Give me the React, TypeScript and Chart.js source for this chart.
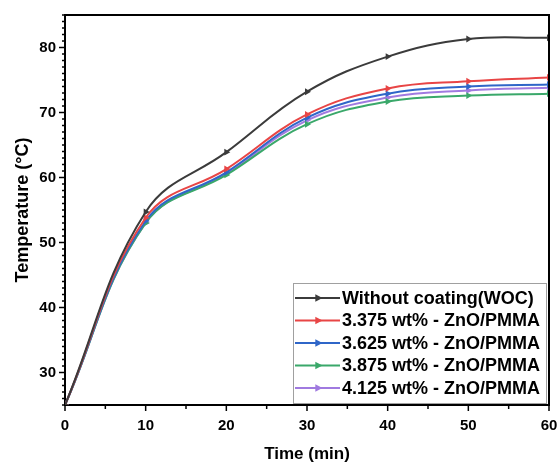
import React, { useEffect, useRef } from "react";
import { Chart, registerables } from "chart.js";

Chart.register(...registerables);

const time = [0, 10, 20, 30, 40, 50, 60];
const woc = [25, 54.7, 63.9, 73.2, 78.6, 81.3, 81.5];
const zno3375 = [25, 53.8, 61.3, 69.7, 73.7, 74.8, 75.4];
const zno3625 = [25, 53.3, 60.8, 69.2, 72.9, 74.0, 74.3];
const zno3875 = [25, 53.0, 60.4, 68.2, 71.7, 72.6, 72.9];
const zno4125 = [25, 53.0, 60.6, 68.8, 72.3, 73.4, 73.8];

const seriesLabels = [
  "Without coating(WOC)",
  "3.375 wt% - ZnO/PMMA",
  "3.625 wt% - ZnO/PMMA",
  "3.875 wt% - ZnO/PMMA",
  "4.125 wt% - ZnO/PMMA",
];
const seriesColors = ["#3b3b3b", "#e84545", "#2f66c8", "#3aa86a", "#a07ae0"];
const seriesValues = [woc, zno3375, zno3625, zno3875, zno4125];

const xTicks = [0, 10, 20, 30, 40, 50, 60];
const yTicks = [30, 40, 50, 60, 70, 80];

const FONT = "'Liberation Sans', Arial, sans-serif";

function drawTri(ctx: CanvasRenderingContext2D, x: number, y: number, r: number) {
  ctx.beginPath();
  ctx.moveTo(x + r, y);
  ctx.lineTo(x - r * 0.6, y - r * 0.85);
  ctx.lineTo(x - r * 0.6, y + r * 0.85);
  ctx.closePath();
  ctx.fill();
}

const framePlugin = {
  id: "frameAndLegend",
  afterDraw(chart: any) {
    const { ctx, chartArea } = chart;
    const { left, right, top, bottom } = chartArea;
    const xs = chart.scales.x;
    const ys = chart.scales.y;
    ctx.save();
    ctx.strokeStyle = "#000";
    ctx.lineWidth = 2;
    ctx.beginPath();
    ctx.moveTo(left, top);
    ctx.lineTo(right, top);
    ctx.lineTo(right, bottom);
    ctx.stroke();
    ctx.lineWidth = 1.5;
    for (let v = 25; v <= 85; v += 1) {
      const py = ys.getPixelForValue(v);
      const len = v % 10 === 0 ? 6 : 3;
      ctx.beginPath();
      ctx.moveTo(left, py);
      ctx.lineTo(left - len, py);
      ctx.stroke();
    }
    for (let v = 0; v <= 60; v += 5) {
      const px = xs.getPixelForValue(v);
      const len = v % 10 === 0 ? 6 : 4;
      ctx.beginPath();
      ctx.moveTo(px, bottom);
      ctx.lineTo(px, bottom + len);
      ctx.stroke();
    }
    const bx = 293, by = 283, bw = 253, bh = 120;
    ctx.fillStyle = "#fff";
    ctx.fillRect(bx, by, bw, bh);
    ctx.strokeStyle = "#a0a0a0";
    ctx.lineWidth = 1;
    ctx.strokeRect(bx + 0.5, by + 0.5, bw, bh);
    const rows = [298, 320.5, 343, 365.5, 388];
    ctx.font = `bold 18px ${FONT}`;
    ctx.textBaseline = "middle";
    ctx.textAlign = "left";
    seriesLabels.forEach((lab, i) => {
      const y = rows[i];
      ctx.strokeStyle = seriesColors[i];
      ctx.lineWidth = 2;
      ctx.beginPath();
      ctx.moveTo(295, y);
      ctx.lineTo(340, y);
      ctx.stroke();
      ctx.fillStyle = seriesColors[i];
      drawTri(ctx, 318, y, 4.5);
      ctx.fillStyle = "#000";
      ctx.fillText(lab, 342, y + 1);
    });
    ctx.restore();
  },
};

export default function App() {
  const ref = useRef<HTMLCanvasElement>(null);
  useEffect(() => {
    document.body.style.margin = "0";
    const canvas = ref.current!;
    const chart = new Chart(canvas, {
      type: "line",
      data: {
        datasets: seriesValues.map((vals, i) => ({
          label: seriesLabels[i],
          data: time.map((t, j) => ({ x: t, y: vals[j] })),
          borderColor: seriesColors[i],
          backgroundColor: seriesColors[i],
          borderWidth: 2,
          pointStyle: "triangle",
          rotation: 90,
          pointRadius: 4,
          pointBorderWidth: 0,
          tension: 0.4,
          fill: false,
        })),
      },
      options: {
        animation: false,
        responsive: false,
        devicePixelRatio: 1,
        layout: { padding: { top: 15, right: 9, left: 0, bottom: 0 } },
        plugins: { legend: { display: false }, tooltip: { enabled: false } },
        scales: {
          x: {
            type: "linear",
            min: 0,
            max: 60,
            afterBuildTicks: (s: any) => {
              s.ticks = xTicks.map((v) => ({ value: v }));
            },
            afterFit: (s: any) => {
              s.height = 60;
              s.paddingRight = 0;
              s.paddingLeft = 0;
            },
            grid: { display: false, drawTicks: false },
            border: { display: true, color: "#000", width: 2 },
            ticks: {
              color: "#000",
              font: { family: FONT, size: 15, weight: "bold" },
              padding: 12,
              maxRotation: 0,
            },
            title: {
              display: true,
              text: "Time (min)",
              color: "#000",
              font: { family: FONT, size: 17, weight: "bold" },
              padding: { top: 0, bottom: 0 },
            },
          },
          y: {
            type: "linear",
            min: 25,
            max: 85,
            afterBuildTicks: (s: any) => {
              s.ticks = yTicks.map((v) => ({ value: v }));
            },
            afterFit: (s: any) => {
              s.width = 65;
              s.paddingTop = 0;
              s.paddingBottom = 0;
            },
            grid: { display: false, drawTicks: false },
            border: { display: true, color: "#000", width: 2 },
            ticks: {
              color: "#000",
              font: { family: FONT, size: 15, weight: "bold" },
              padding: 9,
            },
            title: {
              display: true,
              text: "Temperature (°C)",
              color: "#000",
              font: { family: FONT, size: 18, weight: "bold" },
              padding: { top: 12, bottom: 0 },
            },
          },
        },
      },
      plugins: [framePlugin],
    } as any);
    return () => chart.destroy();
  }, []);
  return <canvas ref={ref} width={558} height={465} style={{ display: "block" }} />;
}
